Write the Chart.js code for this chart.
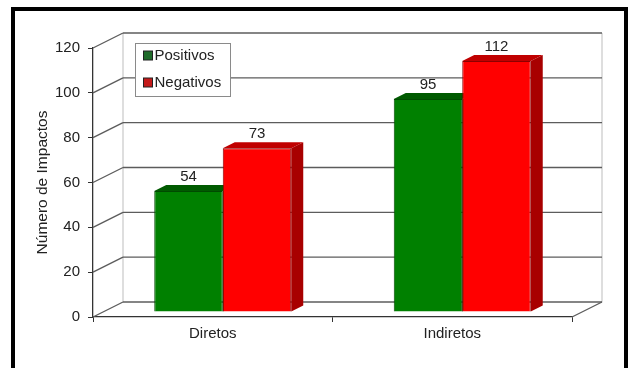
<!DOCTYPE html>
<html>
<head>
<meta charset="utf-8">
<script src="https://cdn.jsdelivr.net/npm/chart.js@4.4.1/dist/chart.umd.min.js"></script>
<style>
  html, body { margin: 0; padding: 0; background: #fff; }
</style>
</head>
<body>
<canvas id="chart" width="630" height="368"></canvas>
<script>
const categories = ['Diretos', 'Indiretos'];
const positivos = [54, 95];
const negativos = [73, 112];
const yTicks = [0, 20, 40, 60, 80, 100, 120];
const seriesNames = ['Positivos', 'Negativos'];

// fake 3D: depth of the walls and of the bars
const WALL_DX = 30, WALL_DY = -15;
const SHIFT_X = 10, SHIFT_Y = -5;
const BAR_DX = 12, BAR_DY = -6;

const FONT = "'Liberation Sans', Arial, sans-serif";
const faceColors = [
    {top: '#005a00', side: '#004400', swatch: '#1f6b2a'},
    {top: '#c00000', side: '#a80000', swatch: '#c41a1a'}
];

function line(ctx, x1, y1, x2, y2) {
    ctx.beginPath();
    ctx.moveTo(x1, y1);
    ctx.lineTo(x2, y2);
    ctx.stroke();
}

const threeD = {
    id: 'threeD',
    beforeDraw(chart) {
        const ctx = chart.ctx;
        ctx.save();
        ctx.fillStyle = '#fff';
        ctx.fillRect(0, 0, chart.width, chart.height);
        ctx.restore();
    },
    beforeDatasetsDraw(chart) {
        const {ctx, chartArea: a, scales: {y}} = chart;
        const yTop = y.getPixelForValue(yTicks[yTicks.length - 1]);
        const y0 = y.getPixelForValue(0);
        ctx.save();
        ctx.lineWidth = 1;
        ctx.strokeStyle = '#bdbdbd';
        line(ctx, a.left + WALL_DX, yTop + WALL_DY, a.left + WALL_DX, y0 + WALL_DY);
        line(ctx, a.right + WALL_DX, yTop + WALL_DY, a.right + WALL_DX, y0 + WALL_DY);
        ctx.strokeStyle = '#5c5c5c';
        ctx.lineWidth = 1.3;
        yTicks.forEach(v => {
            const py = y.getPixelForValue(v);
            line(ctx, a.left, py, a.left + WALL_DX, py + WALL_DY);
            line(ctx, a.left + WALL_DX, py + WALL_DY, a.right + WALL_DX, py + WALL_DY);
        });
        line(ctx, a.right, y0, a.right + WALL_DX, y0 + WALL_DY);
        ctx.restore();

        // bars are drawn a bit behind the front plane
        ctx.save();
        ctx.translate(SHIFT_X, SHIFT_Y);
        chart.data.datasets.forEach((ds, i) => {
            chart.getDatasetMeta(i).data.forEach(bar => {
                const x1 = bar.x - bar.width / 2, x2 = bar.x + bar.width / 2;
                const top = bar.y, bottom = bar.base;
                ctx.fillStyle = faceColors[i].side;
                ctx.beginPath();
                ctx.moveTo(x2, top);
                ctx.lineTo(x2 + BAR_DX, top + BAR_DY);
                ctx.lineTo(x2 + BAR_DX, bottom + BAR_DY);
                ctx.lineTo(x2, bottom);
                ctx.closePath();
                ctx.fill();
                ctx.fillStyle = faceColors[i].top;
                ctx.beginPath();
                ctx.moveTo(x1, top);
                ctx.lineTo(x1 + BAR_DX, top + BAR_DY);
                ctx.lineTo(x2 + BAR_DX, top + BAR_DY);
                ctx.lineTo(x2, top);
                ctx.closePath();
                ctx.fill();
            });
        });
    },
    afterDatasetsDraw(chart) {
        const ctx = chart.ctx;
        ctx.restore();
        ctx.save();
        ctx.font = '15px ' + FONT;
        ctx.fillStyle = '#222';
        ctx.textAlign = 'center';
        ctx.textBaseline = 'middle';
        chart.data.datasets.forEach((ds, i) => {
            chart.getDatasetMeta(i).data.forEach((bar, j) => {
                ctx.fillText(String(ds.data[j]), bar.x + SHIFT_X, bar.y + SHIFT_Y - 14.5);
            });
        });
        ctx.restore();
    },
    afterDraw(chart) {
        const {ctx, chartArea: a} = chart;
        ctx.save();
        // legend box
        const lx = a.left + 42.5, ly = a.top - 4.5;
        ctx.fillStyle = '#fff';
        ctx.fillRect(lx, ly, 95, 53);
        ctx.strokeStyle = '#8a8a8a';
        ctx.lineWidth = 1;
        ctx.strokeRect(lx, ly, 95, 53);
        ctx.font = '15px ' + FONT;
        ctx.textBaseline = 'middle';
        ctx.textAlign = 'left';
        chart.data.datasets.forEach((ds, i) => {
            const cy = ly + 12 + i * 27;
            ctx.fillStyle = faceColors[i].swatch;
            ctx.fillRect(lx + 8, cy - 4.5, 9, 9);
            ctx.strokeStyle = '#222';
            ctx.strokeRect(lx + 8, cy - 4.5, 9, 9);
            ctx.fillStyle = '#222';
            ctx.fillText(ds.label, lx + 19, cy);
        });
        // outer frame
        ctx.strokeStyle = '#000';
        ctx.lineWidth = 4;
        ctx.strokeRect(13, 9, 613, 400);
        ctx.restore();
    }
};

new Chart(document.getElementById('chart'), {
    type: 'bar',
    plugins: [threeD],
    data: {
        labels: categories,
        datasets: [
            {
                label: seriesNames[0],
                data: positivos,
                backgroundColor: '#008000',
                borderColor: '#004a00',
                borderWidth: 1
            },
            {
                label: seriesNames[1],
                data: negativos,
                backgroundColor: '#ff0000',
                borderColor: '#8c0000',
                borderWidth: 1
            }
        ]
    },
    options: {
        responsive: false,
        animation: false,
        devicePixelRatio: 1,
        layout: {padding: {left: 15, right: 58, top: 48, bottom: 0}},
        datasets: {bar: {categoryPercentage: 0.572, barPercentage: 1, clip: false}},
        plugins: {
            legend: {display: false},
            tooltip: {enabled: false}
        },
        scales: {
            x: {
                afterFit: s => { s.height = 51; },
                border: {display: true, color: '#333', width: 1.3},
                grid: {drawOnChartArea: false, drawTicks: true, tickLength: 5, color: '#333', offset: true},
                ticks: {color: '#222', font: {family: FONT, size: 15}, padding: 3}
            },
            y: {
                min: 0,
                max: 120,
                afterFit: s => { s.width = 78; },
                border: {display: true, color: '#333', width: 1.3},
                grid: {drawOnChartArea: false, drawTicks: true, tickLength: 5, color: '#333'},
                ticks: {stepSize: 20, color: '#222', font: {family: FONT, size: 15}, padding: 8},
                title: {
                    display: true,
                    text: 'Número de Impactos',
                    color: '#222',
                    font: {family: FONT, size: 15.5},
                    padding: {top: 18, bottom: 0}
                }
            }
        }
    }
});
</script>
</body>
</html>
